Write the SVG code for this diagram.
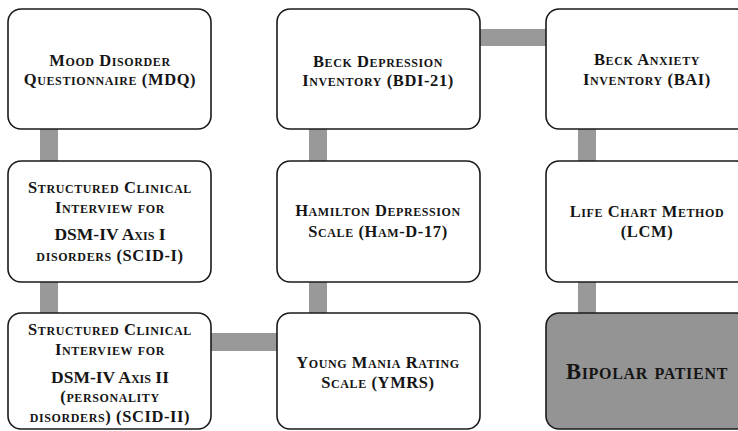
<svg xmlns="http://www.w3.org/2000/svg" width="738" height="431" viewBox="0 0 738 431">
<style>
.box{fill:#fff;stroke:#1a1a1a;stroke-width:1.6}
.dark{fill:#949494;stroke:#1a1a1a;stroke-width:1.6}
.conn{fill:#999}
text{font-family:"Liberation Serif","Times New Roman",serif;font-weight:bold;font-variant:small-caps;font-size:16.5px;letter-spacing:0.6px;fill:#151515;text-anchor:middle}
.big{font-size:17.5px;letter-spacing:0}
.huge{font-size:22.5px;letter-spacing:0.7px}
</style>
<rect width="738" height="431" fill="#fff"/>
<g id="connectors">
<rect class="conn" x="40" y="128" width="18" height="34"/>
<rect class="conn" x="40" y="281" width="18" height="33"/>
<rect class="conn" x="309" y="128" width="18" height="34"/>
<rect class="conn" x="309" y="281" width="18" height="33"/>
<rect class="conn" x="578" y="128" width="18" height="34"/>
<rect class="conn" x="578" y="281" width="18" height="33"/>
<rect class="conn" x="479" y="29" width="68" height="17"/>
<rect class="conn" x="210" y="333" width="68" height="18"/>
</g>
<g id="mdq">
<rect class="box" x="8" y="9" width="203" height="120" rx="13"/>
<text x="110" y="66">Mood Disorder</text>
<text x="110" y="85">Questionnaire (MDQ)</text>
</g>
<g id="scid1">
<rect class="box" x="8" y="161" width="203" height="121" rx="13"/>
<text x="110" y="193">Structured Clinical</text>
<text x="110" y="213">Interview for</text>
<text class="big" x="110" y="240">DSM-IV Axis I</text>
<text x="110" y="261">disorders (SCID-I)</text>
</g>
<g id="scid2">
<rect class="box" x="8" y="313" width="203" height="116" rx="13"/>
<text x="110" y="335">Structured Clinical</text>
<text x="110" y="355">Interview for</text>
<text class="big" x="110" y="383">DSM-IV Axis II</text>
<text x="110" y="402">(personality</text>
<text x="110" y="422">disorders) (SCID-II)</text>
</g>
<g id="bdi">
<rect class="box" x="277" y="9" width="203" height="120" rx="13"/>
<text x="378" y="67">Beck Depression</text>
<text x="378" y="86">Inventory (BDI-21)</text>
</g>
<g id="hamd">
<rect class="box" x="277" y="161" width="203" height="121" rx="13"/>
<text x="378" y="216">Hamilton Depression</text>
<text x="378" y="237">Scale (Ham-D-17)</text>
</g>
<g id="ymrs">
<rect class="box" x="277" y="313" width="203" height="116" rx="13"/>
<text x="378" y="368">Young Mania Rating</text>
<text x="378" y="388">Scale (YMRS)</text>
</g>
<g id="bai">
<rect class="box" x="546" y="9" width="203" height="120" rx="13"/>
<text x="647" y="65">Beck Anxiety</text>
<text x="647" y="85">Inventory (BAI)</text>
</g>
<g id="lcm">
<rect class="box" x="546" y="161" width="203" height="121" rx="13"/>
<text x="647" y="217">Life Chart Method</text>
<text x="647" y="237">(LCM)</text>
</g>
<g id="bipolar">
<rect class="dark" x="546" y="313" width="203" height="116" rx="13"/>
<text class="huge" x="647" y="379">Bipolar patient</text>
</g>
</svg>
